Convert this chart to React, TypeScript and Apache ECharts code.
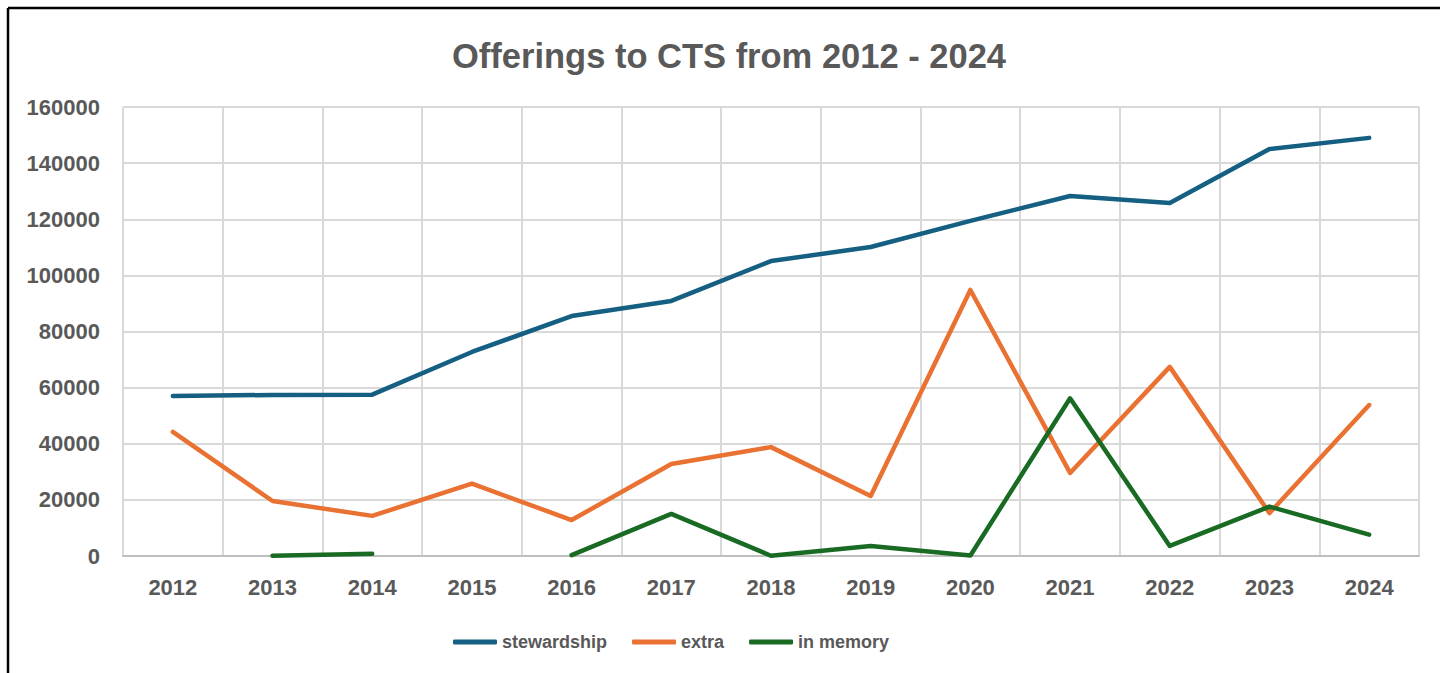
import React, { useEffect, useRef } from "react";
import * as echarts from "echarts";

const years = ["2012", "2013", "2014", "2015", "2016", "2017", "2018", "2019", "2020", "2021", "2022", "2023", "2024"];
const stewardship = [57000, 57400, 57500, 72700, 85500, 90900, 105100, 110100, 119400, 128300, 125800, 145000, 149000];
const extra = [44200, 19600, 14300, 25800, 12800, 32800, 38800, 21400, 94800, 29600, 67400, 15300, 53800];
const inMemory = [null, 100, 800, null, 300, 15000, 100, 3600, 200, 56200, 3600, 17600, 7600];

const FONT = "'Liberation Sans', Arial, sans-serif";
const GRAY = "#595959";

export default function App() {
  const ref = useRef<HTMLDivElement>(null);
  useEffect(() => {
    if (!ref.current) return;
    const chart = echarts.init(ref.current, undefined, { renderer: "svg" });
    chart.setOption({
      animation: false,
      backgroundColor: "#ffffff",
      title: {
        text: "Offerings to CTS from 2012 - 2024",
        left: 724,
        top: 33,
        textAlign: "center",
        textStyle: { fontFamily: FONT, fontSize: 34.5, fontWeight: "bold", color: GRAY },
      },
      legend: {
        left: 448,
        top: 628,
        icon: "roundRect",
        itemWidth: 44,
        itemHeight: 5,
        itemGap: 25,
        textStyle: { fontFamily: FONT, fontSize: 18, fontWeight: "bold", color: GRAY },
        data: ["stewardship", "extra", "in memory"],
      },
      grid: { left: 123, right: 21, top: 107, bottom: 117, containLabel: false },
      xAxis: {
        type: "category",
        data: years,
        boundaryGap: true,
        axisLine: { lineStyle: { color: "#bfbfbf", width: 2 } },
        axisTick: { show: false },
        splitLine: { show: true, lineStyle: { color: "#d9d9d9", width: 2 } },
        axisLabel: { fontFamily: FONT, fontSize: 22, fontWeight: "bold", color: GRAY, margin: 20, interval: 0 },
      },
      yAxis: {
        type: "value",
        min: 0,
        max: 160000,
        interval: 20000,
        axisLine: { show: false },
        axisTick: { show: false },
        splitLine: { lineStyle: { color: "#d9d9d9", width: 2 } },
        axisLabel: {
          fontFamily: FONT, fontSize: 22, fontWeight: "bold", color: GRAY, margin: 23,
          formatter: (v: number) => String(v),
        },
      },
      series: [
        { name: "stewardship", type: "line", data: stewardship, symbol: "none", lineStyle: { width: 4.5, color: "#156082", cap: "round", join: "round" }, itemStyle: { color: "#156082" } },
        { name: "extra", type: "line", data: extra, symbol: "none", lineStyle: { width: 4.5, color: "#E97132", cap: "round", join: "round" }, itemStyle: { color: "#E97132" } },
        { name: "in memory", type: "line", data: inMemory, symbol: "none", connectNulls: false, lineStyle: { width: 4.5, color: "#196B24", cap: "round", join: "round" }, itemStyle: { color: "#196B24" } },
      ],
      graphic: [
        {
          type: "line",
          silent: true,
          shape: { x1: 8, y1: 8, x2: 1440, y2: 8 },
          style: { stroke: "#000000", lineWidth: 2.5 },
          z: 100,
        },
        {
          type: "line",
          silent: true,
          shape: { x1: 8, y1: 8, x2: 8, y2: 673 },
          style: { stroke: "#000000", lineWidth: 2.5 },
          z: 100,
        },
      ],
    });
    return () => chart.dispose();
  }, []);
  return <div ref={ref} style={{ position: "fixed", left: 0, top: 0, width: 1440, height: 673 }} />;
}
